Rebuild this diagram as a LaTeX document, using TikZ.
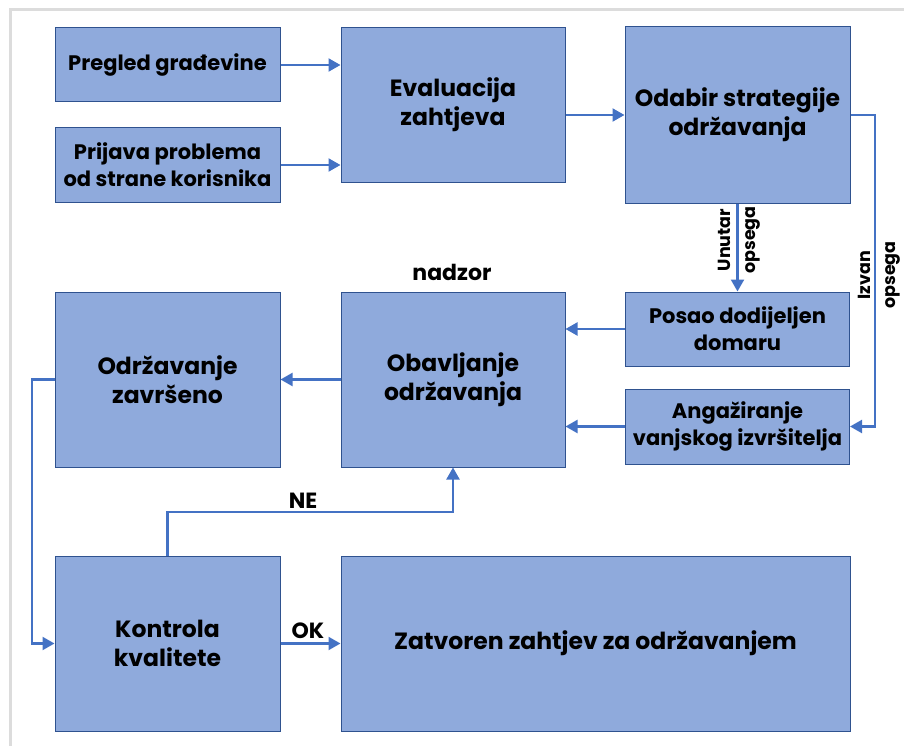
\documentclass[tikz,border=0pt]{standalone}
\usepackage{fontspec}
\setmainfont{Poppins}
\usetikzlibrary{arrows.meta}
\definecolor{boxfill}{HTML}{8FAADC}
\definecolor{boxline}{HTML}{2F528F}
\definecolor{arrowc}{HTML}{4472C4}
\definecolor{framec}{HTML}{DCDCDC}
\begin{document}
\begin{tikzpicture}[x=1pt,y=-1pt,
  box/.style={draw=boxline, fill=boxfill, line width=1pt, align=center, inner sep=0pt,
    font=\bfseries\fontsize{21}{27}\selectfont},
  bigtext/.style={font=\bfseries\fontsize{23.5}{29}\selectfont},
  conn/.style={draw=arrowc, line width=2.2pt, -{Triangle[length=12pt,width=13pt]}},
  lab/.style={font=\bfseries\fontsize{22}{24}\selectfont, inner sep=0pt, align=center},
  rlab/.style={font=\bfseries\fontsize{17.5}{25}\selectfont, inner sep=0pt, align=center, rotate=90}]
\useasboundingbox (0,0) rectangle (904,746);
\draw[framec, line width=3pt] (10,746) -- (10,10) -- (904,10);

\node[box, minimum width=225pt, minimum height=74pt] (preg) at (167.5,65) {Pregled građevine};
\node[box, minimum width=225pt, minimum height=74pt] (prij) at (167.5,165) {Prijava problema\\od strane korisnika};
\node[box, bigtext, minimum width=224pt, minimum height=155pt] (eval) at (453,105) {Evaluacija\\zahtjeva};
\node[box, bigtext, minimum width=225pt, minimum height=176pt] (odab) at (737.5,115) {Odabir strategije\\održavanja};
\node[box, minimum width=224pt, minimum height=74pt] (posao) at (737.5,329) {Posao dodijeljen\\domaru};
\node[box, minimum width=224pt, minimum height=75pt] (angaz) at (737.5,426.5) {Angažiranje\\vanjskog izvršitelja};
\node[box, bigtext, minimum width=224pt, minimum height=175pt] (obav) at (453,379.5) {Obavljanje\\održavanja};
\node[box, bigtext, minimum width=225pt, minimum height=175pt] (odrz) at (167.5,379.5) {Održavanje\\završeno};
\node[box, bigtext, minimum width=225pt, minimum height=175pt] (kontr) at (167.5,643.5) {Kontrola\\kvalitete};
\node[box, bigtext, minimum width=509pt, minimum height=175pt] (zatv) at (595.5,643.5) {Zatvoren zahtjev za održavanjem};

\draw[conn] (preg.east) -- (preg.east -| eval.west);
\draw[conn] (prij.east) -- (prij.east -| eval.west);
\draw[conn] (eval.east |- odab.west) -- (odab.west);
\draw[conn] (odab.south) -- (posao.north);
\node[rlab] (unutar) at (739,240) {Unutar\\opsega};
\coordinate (izv) at (875,426.5);
\draw[conn] (odab.east) -| (izv) -- (angaz.east);
\node[rlab] (izvan) at (879,275) {Izvan\\opsega};
\draw[conn] (posao.west) -- (posao.west -| obav.east);
\draw[conn] (angaz.west) -- (angaz.west -| obav.east);
\draw[conn] (obav.west) -- (odrz.east);
\coordinate (lft) at (32,379.5);
\draw[conn] (odrz.west) -- (lft) |- (kontr.west);
\coordinate (ne) at (167.5,512);
\draw[conn] (kontr.north) -- (ne) -| (obav.south);
\node[lab] (nelab) at (303,501) {NE};
\draw[conn] (kontr.east) -- (zatv.west);
\node[lab] (oklab) at (308,631) {OK};
\node[lab] (nadzor) at (452,272) {nadzor};
\end{tikzpicture}
\end{document}
